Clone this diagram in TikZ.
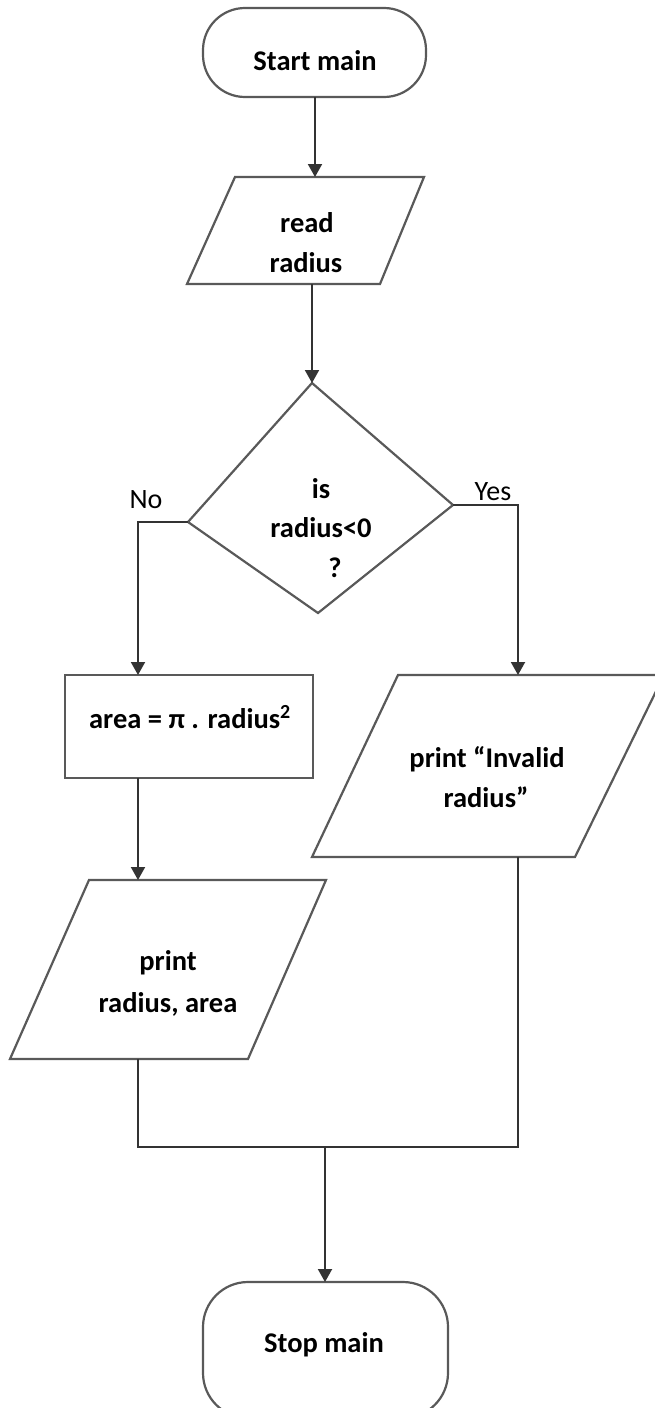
\documentclass[tikz,border=0pt]{standalone}
\usepackage{fontspec}
\setmainfont{Carlito}
\usetikzlibrary{arrows.meta}
\begin{document}
\begin{tikzpicture}[x=1pt,y=-1pt,
  shapeline/.style={draw=black!65, line width=2.2pt, line join=miter, fill=white},
  conn/.style={draw=black!80, line width=2pt},
  arr/.style={conn, -{Triangle[width=14pt,length=13pt]}},
  txt/.style={anchor=base, inner sep=0pt, font=\fontsize{28.5}{40}\selectfont\bfseries},
  lbl/.style={anchor=base, inner sep=0pt, font=\fontsize{28}{36}\selectfont}]
\useasboundingbox (0,0) rectangle (654,1408);
\fill[white] (0,0) rectangle (654,1408);

% ---- shapes ----
\draw[shapeline, rounded corners=42pt] (203,8) rectangle (426,97);
\draw[shapeline] (235,177) -- (424,177) -- (380,284) -- (187,284) -- cycle;
\draw[shapeline] (312,383) -- (453,505) -- (318,613) -- (188,522) -- cycle;
\draw[shapeline] (65,675) rectangle (313,778);
\draw[shapeline] (398,675) -- (664,675) -- (575,857) -- (312,857) -- cycle;
\draw[shapeline] (89,880) -- (326,880) -- (248,1059) -- (10,1059) -- cycle;
\draw[shapeline, rounded corners=45pt] (203,1282) rectangle (448,1418);

% ---- connection points ----
\coordinate (startB) at (315,97);
\coordinate (readT)  at (315,177);
\coordinate (readB)  at (312,284);
\coordinate (decT)   at (312,383);
\coordinate (decL)   at (188,522);
\coordinate (decR)   at (453,505);
\coordinate (noC)    at (138,522);
\coordinate (yesC)   at (518,505);
\coordinate (areaT)  at (138,675);
\coordinate (areaB)  at (138,778);
\coordinate (invT)   at (518,675);
\coordinate (invB)   at (518,857);
\coordinate (printT) at (138,880);
\coordinate (printB) at (138,1059);
\coordinate (joinL)  at (138,1147);
\coordinate (joinR)  at (518,1147);
\coordinate (joinM)  at (325,1147);
\coordinate (stopT)  at (325,1282);

% ---- texts ----
\node[txt] (tStart) at (315,70) {Start main};
\node[txt] (tReadA) at (307,232) {read};
\node[txt] (tReadB) at (306,272) {radius};
\node[txt] (tDecA) at (321,498) {is};
\node[txt] (tDecB) at (321,537) {radius<0};
\node[txt] (tDecC) at (335,577) {?};
\node[lbl] (tNo) at (146,508) {No};
\node[lbl] (tYes) at (493,500) {Yes};
\node[txt] (tArea) at (190,728) {area = π . radius\textsuperscript{2}};
\node[txt] (tInvA) at (487,767) {print “Invalid};
\node[txt] (tInvB) at (486,807) {radius”};
\node[txt] (tPrA) at (168,970) {print};
\node[txt] (tPrB) at (168,1012) {radius, area};
\node[txt] (tStop) at (324,1352) {Stop main};

% ---- connectors ----
\draw[arr] (startB) -- (readT);
\draw[arr] (readB) -- (decT);
\draw[arr] (decL) -- (noC) -- (areaT);
\draw[arr] (decR) -- (yesC) -- (invT);
\draw[arr] (areaB) -- (printT);
\draw[conn] (printB) -- (joinL) -- (joinR) -- (invB);
\draw[arr] (joinM) -- (stopT);
\end{tikzpicture}
\end{document}
